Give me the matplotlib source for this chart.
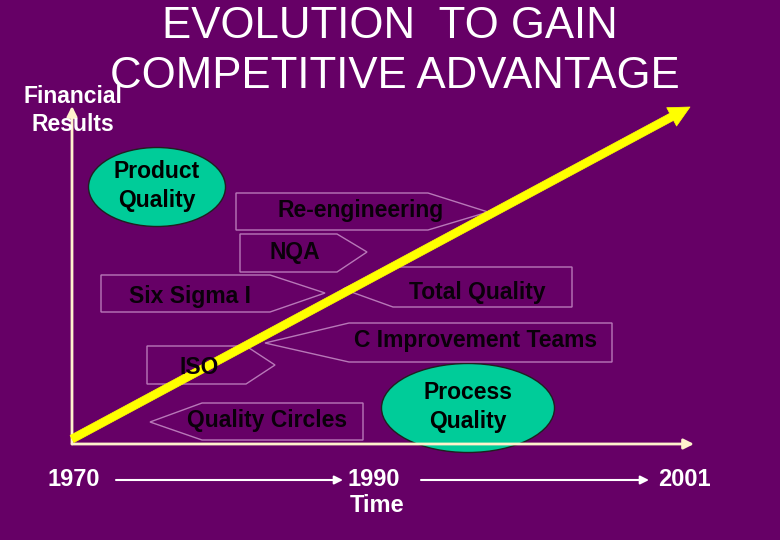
import matplotlib
matplotlib.use("Agg")
import matplotlib.pyplot as plt
from matplotlib.patches import Ellipse, Polygon

# ---- content ----
title_lines = ["EVOLUTION  TO GAIN", "COMPETITIVE ADVANTAGE"]
y_axis_label = ["Financial", "Results"]
x_axis_label = "Time"
year_labels = ["1970", "1990", "2001"]
ellipse_labels = ["Product\nQuality", "Process\nQuality"]
callout_labels = ["Re-engineering", "NQA", "Total Quality", "Six Sigma I",
                  "C Improvement Teams", "ISO", "Quality Circles"]

# ---- layout (pixel coordinates of the slide) ----
BG = "#660066"
FONT = "Liberation Sans"
ellipse_geom = [  # cx, cy, w, h
    (157, 187, 137, 79),
    (468, 408, 173, 89),
]
# direction, outer edge x, body edge x, top, bottom, tip x, tip y, text x, text y
callout_geom = [
    ("R", 236, 428, 193, 230, 488, 212, 361, 210),
    ("R", 240, 337, 234, 272, 367, 252, 295, 253),
    ("L", 572, 393, 267, 307, 343, 289, 477, 293),
    ("R", 101, 270, 275, 312, 325, 293, 190, 297),
    ("L", 612, 349, 323, 362, 265, 343, 476, 340),
    ("R", 147, 246, 346, 384, 275, 365, 199, 368),
    ("L", 363, 202, 403, 440, 150, 422, 267, 420),
]
year_pos = [(74, 480), (374, 480), (684, 480)]
time_arrows = [(116, 343), (421, 649)]

fig = plt.figure(figsize=(7.8, 5.4), dpi=100)
fig.patch.set_facecolor(BG)
ax = fig.add_axes([0, 0, 1, 1])
ax.set_xlim(0, 780)
ax.set_ylim(540, 0)
ax.axis("off")
ax.set_facecolor(BG)

# ellipses
for (cx, cy, w, h), lab in zip(ellipse_geom, ellipse_labels):
    ax.add_patch(Ellipse((cx, cy), w, h, facecolor="#00CC99",
                         edgecolor="#202020", lw=1.0, zorder=2))
    ax.text(cx, cy - 1, lab, ha="center", va="center", fontsize=16.5,
            fontweight="bold", family=FONT, color="black",
            linespacing=1.3, zorder=6)

# callouts
for g, lab in zip(callout_geom, callout_labels):
    d, xo, xb, top, bot, tx, ty, lx, ly = g
    verts = [(xo, top), (xb, top), (tx, ty), (xb, bot), (xo, bot)]
    ax.add_patch(Polygon(verts, closed=True, facecolor="none",
                         edgecolor="#B878B8", lw=1.0, zorder=3))
    ax.text(lx, ly, lab, ha="center", va="center", fontsize=16.5,
            fontweight="bold", family=FONT, color="#0a000a", zorder=6)

axis_col = "#FFF2CC"
# axes with arrows
ax.annotate("", xy=(72, 106), xytext=(72, 444),
            arrowprops=dict(arrowstyle="-|>,head_length=0.6,head_width=0.3",
                            color=axis_col, lw=2, shrinkA=0, shrinkB=0),
            zorder=4)
ax.annotate("", xy=(694, 444), xytext=(72, 444),
            arrowprops=dict(arrowstyle="-|>,head_length=0.6,head_width=0.3",
                            color=axis_col, lw=2, shrinkA=0, shrinkB=0),
            zorder=4)

# growth arrow
ax.annotate("", xy=(690, 107), xytext=(72, 439),
            arrowprops=dict(arrowstyle="simple,head_length=1.5,head_width=1.5,tail_width=0.58",
                            mutation_scale=10, facecolor="#FFFF00",
                            edgecolor="#FFFF00", lw=0.5,
                            shrinkA=0, shrinkB=0),
            zorder=5)

# title
ax.text(390, 38, title_lines[0], ha="center", va="baseline", fontsize=31.5,
        family=FONT, color="white", zorder=7)
ax.text(395, 88, title_lines[1], ha="center", va="baseline", fontsize=31.5,
        family=FONT, color="white", zorder=7)

# y-axis label
ax.text(73, 103, y_axis_label[0], ha="center", va="baseline", fontsize=16.5,
        fontweight="bold", family=FONT, color="white", zorder=8)
ax.text(73, 131, y_axis_label[1], ha="center", va="baseline", fontsize=16.5,
        fontweight="bold", family=FONT, color="white", zorder=8)

# time axis
for (x, y), lab in zip(year_pos, year_labels):
    ax.text(x, y, lab, ha="center", va="center", fontsize=17,
            fontweight="bold", family=FONT, color="white", zorder=7)
for x0, x1 in time_arrows:
    ax.annotate("", xy=(x1, 480), xytext=(x0, 480),
                arrowprops=dict(arrowstyle="-|>,head_length=0.5,head_width=0.25",
                                color="white", lw=1.5, shrinkA=0, shrinkB=0),
                zorder=4)
ax.text(377, 505, x_axis_label, ha="center", va="center", fontsize=17,
        fontweight="bold", family=FONT, color="white", zorder=7)

fig.savefig("out.png", dpi=100, facecolor=BG)
